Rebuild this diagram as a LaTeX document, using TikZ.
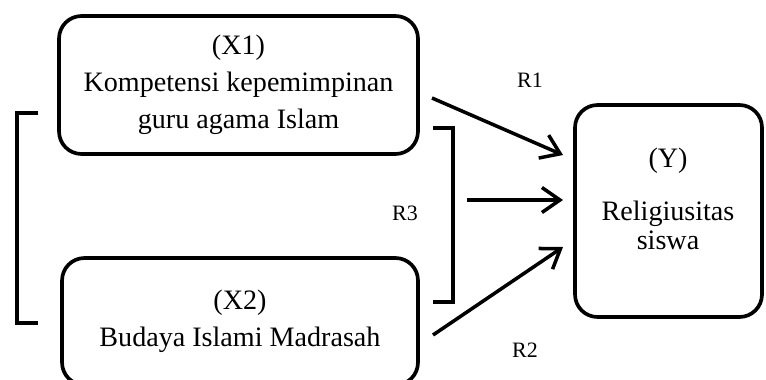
\documentclass[tikz,border=0pt]{standalone}
\usepackage{fontspec}
\setmainfont{Liberation Serif}
\usetikzlibrary{arrows.meta, positioning}

\begin{document}
\begin{tikzpicture}[
    x=0.02cm, y=-0.02cm,
    every node/.style={align=center},
    box/.style={draw, line width=2.1pt, rounded corners=0.45cm,
                font=\fontsize{16}{21}\selectfont},
    arr/.style={-{Straight Barb[length=0.36cm, width=0.5cm, line width=2pt]}, line width=2pt},
    brk/.style={line width=2pt},
    rlabel/.style={font=\fontsize{12.5}{14}\selectfont}
]
\useasboundingbox (0,0) rectangle (766,379);

\node[box, minimum width=7.18cm, minimum height=2.76cm] (x1) at (238.5,85)
    {(X1)\\Kompetensi kepemimpinan\\guru agama Islam};
\node[box, minimum width=7.12cm, minimum height=2.54cm] (x2) at (240,321.5)
    {(X2)\\Budaya Islami Madrasah};
\node[box, minimum width=3.74cm, minimum height=4.24cm] (y) at (668.5,211) {};
\node[font=\fontsize{16}{16.5}\selectfont] (ytext) at (668,199)
    {(Y)\\[14pt]Religiusitas\\siswa};

% brackets
\draw[brk] (38,113) -| (17,323) -- (38,323);
\draw[brk] (433,128) -| (453,302) -- (433,302);

% arrows
\coordinate (r1a) at (432,98);
\coordinate (r1b) at (563,155);
\coordinate (r3a) at (467,200);
\coordinate (r3b) at (563,200);
\coordinate (r2a) at (433,335);
\coordinate (r2b) at (563,247);
\draw[arr] (r1a) -- (r1b);
\draw[arr] (r3a) -- (r3b);
\draw[arr] (r2a) -- (r2b);

\node[rlabel] (lr1) at (530,80)  {R1};
\node[rlabel] (lr3) at (405,213) {R3};
\node[rlabel] (lr2) at (525,350) {R2};
\end{tikzpicture}
\end{document}
